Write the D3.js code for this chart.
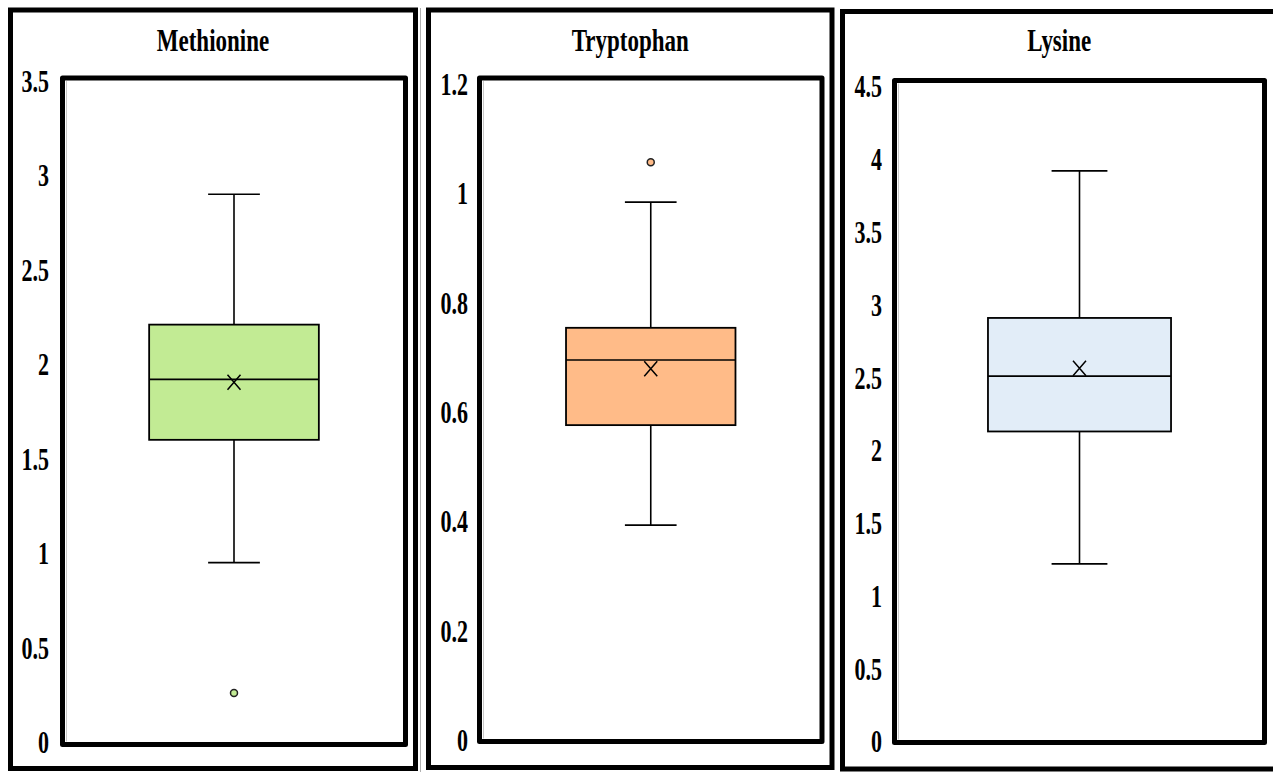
<!DOCTYPE html>
<html>
<head>
<meta charset="utf-8">
<script src="https://cdn.jsdelivr.net/npm/d3@7"></script>
<style>
  html, body { margin: 0; padding: 0; background: #fff; }
  svg { display: block; }
  text { font-family: "Liberation Serif", "Times New Roman", serif; font-weight: bold; fill: #000; }
</style>
</head>
<body>
<svg id="chart" width="1273" height="772"></svg>
<script>
// ---- data ----
const categories   = ["Methionine", "Tryptophan", "Lysine"];
const whiskerLow   = [0.95, 0.393, 1.22];
const q1           = [1.60, 0.576, 2.13];
const median       = [1.92, 0.695, 2.51];
const q3           = [2.21, 0.754, 2.91];
const whiskerHigh  = [2.90, 0.984, 3.92];
const means        = [1.905, 0.679, 2.565];
const outliers     = [[0.26], [1.057], []];
const yMax         = [3.5, 1.2, 4.5];
const ticksMethionine = [0, 0.5, 1, 1.5, 2, 2.5, 3, 3.5];
const ticksTryptophan = [0, 0.2, 0.4, 0.6, 0.8, 1, 1.2];
const ticksLysine     = [0, 0.5, 1, 1.5, 2, 2.5, 3, 3.5, 4, 4.5];
const tickLists = [ticksMethionine, ticksTryptophan, ticksLysine];

// ---- styles / layout ----
const fills = ["#c2eb94", "#ffbb88", "#e2edf8"];
const layout = [
  { outer: [10.5, 10, 415.5, 768.5], inner: [62.5, 78, 405.5, 744.5], yRange: [742, 81],   labelX: 49 },
  { outer: [428.5, 10, 832, 767.5],  inner: [479.5, 78, 822, 741.5],  yRange: [740, 84],   labelX: 468 },
  { outer: [842.5, 11.5, 1276, 769], inner: [894.5, 80.5, 1264.5, 742.5], yRange: [741.5, 86.5], labelX: 882 }
];

const svg = d3.select("#chart");

categories.forEach((cat, i) => {
  const L = layout[i];
  const g = svg.append("g");

  // outer frame
  const [ox0, oy0, ox1, oy1] = L.outer;
  g.append("rect")
    .attr("x", ox0).attr("y", oy0).attr("width", ox1 - ox0).attr("height", oy1 - oy0)
    .attr("fill", "#fff").attr("stroke", "#000").attr("stroke-width", 5);

  // title
  const cx = (ox0 + ox1) / 2;
  g.append("g").attr("transform", `translate(${cx},51)`)
    .append("text")
    .attr("text-anchor", "middle")
    .attr("transform", "scale(1,1.38)")
    .style("font-size", "23px")
    .text(cat);

  // inner frame
  const [ix0, iy0, ix1, iy1] = L.inner;
  g.append("line")
    .attr("x1", ix0 + 4).attr("x2", ix0 + 4).attr("y1", iy0 + 3).attr("y2", iy1 - 3)
    .attr("stroke", "#c8c8c8").attr("stroke-width", 1);
  g.append("rect")
    .attr("x", ix0).attr("y", iy0).attr("width", ix1 - ix0).attr("height", iy1 - iy0)
    .attr("fill", "none").attr("stroke", "#000").attr("stroke-width", 5)
    .attr("stroke-linejoin", "round");

  // scales
  const y = d3.scaleLinear().domain([0, yMax[i]]).range(L.yRange);
  const x = d3.scaleBand().domain([cat]).range([ix0, ix1]).paddingInner(0.338).paddingOuter(0.338);

  // axis (labels only)
  const axis = d3.axisLeft(y).tickValues(tickLists[i]).tickSize(0).tickPadding(0)
    .tickFormat(d => String(+d.toFixed(2)));
  const ag = g.append("g").attr("transform", `translate(${L.labelX},0)`).call(axis);
  ag.select(".domain").remove();
  ag.selectAll("text")
    .attr("x", 0).attr("dy", "0.34em")
    .attr("transform", "scale(1,1.4)")
    .style("font-family", "'Liberation Serif', 'Times New Roman', serif")
    .style("font-weight", "bold")
    .style("font-size", "22px")
    .attr("fill", "#000");

  // box plot
  const bx = x(cat), bw = x.bandwidth(), mx = bx + bw / 2, capW = bw * 0.305;
  const stroke = "#000";
  g.append("line").attr("x1", mx).attr("x2", mx).attr("y1", y(whiskerHigh[i])).attr("y2", y(q3[i]))
    .attr("stroke", stroke).attr("stroke-width", 1.6);
  g.append("line").attr("x1", mx).attr("x2", mx).attr("y1", y(q1[i])).attr("y2", y(whiskerLow[i]))
    .attr("stroke", stroke).attr("stroke-width", 1.6);
  [whiskerHigh[i], whiskerLow[i]].forEach(v => {
    g.append("line").attr("x1", mx - capW / 2).attr("x2", mx + capW / 2).attr("y1", y(v)).attr("y2", y(v))
      .attr("stroke", stroke).attr("stroke-width", 1.6);
  });
  g.append("rect")
    .attr("x", bx).attr("y", y(q3[i])).attr("width", bw).attr("height", y(q1[i]) - y(q3[i]))
    .attr("fill", fills[i]).attr("stroke", stroke).attr("stroke-width", 1.8);
  g.append("line").attr("x1", bx).attr("x2", bx + bw).attr("y1", y(median[i])).attr("y2", y(median[i]))
    .attr("stroke", stroke).attr("stroke-width", 1.6);

  // mean marker
  const my = y(means[i]), a = 6.5, b = 7.5;
  g.append("path")
    .attr("d", `M${mx - a},${my - b}L${mx + a},${my + b}M${mx - a},${my + b}L${mx + a},${my - b}`)
    .attr("stroke", stroke).attr("stroke-width", 1.5).attr("fill", "none");

  // outliers
  g.selectAll("circle.out").data(outliers[i]).enter().append("circle")
    .attr("class", "out")
    .attr("cx", mx).attr("cy", d => y(d)).attr("r", 3.5)
    .attr("fill", fills[i]).attr("stroke", "#222").attr("stroke-width", 1.5);
});

// thin gray separator right of the first panel
svg.append("line").attr("x1", 420.5).attr("x2", 420.5).attr("y1", 8).attr("y2", 772)
  .attr("stroke", "#b0b0b0").attr("stroke-width", 1);
</script>
</body>
</html>
